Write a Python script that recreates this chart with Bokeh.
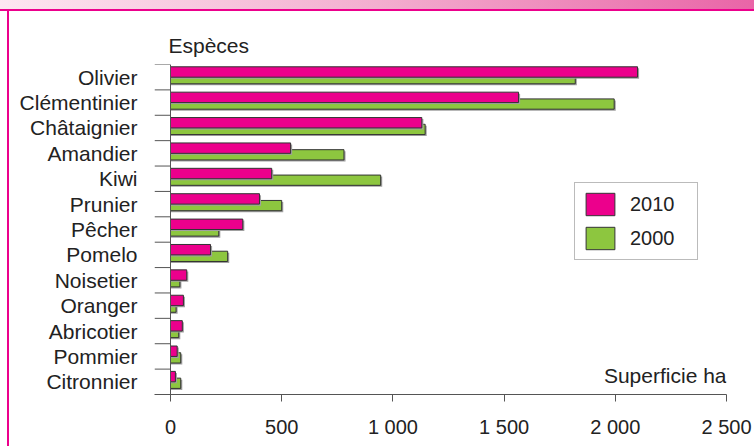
from bokeh.plotting import figure
from bokeh.models import (FactorRange, Range1d, FixedTicker, Span, Label, Legend,
                          LegendItem, ColumnDataSource)
from bokeh.transform import dodge
from bokeh.embed import file_html
from bokeh.resources import INLINE

# ---- data -------------------------------------------------------------
CATEGORIES = ["Olivier", "Clémentinier", "Châtaignier", "Amandier", "Kiwi",
              "Prunier", "Pêcher", "Pomelo", "Noisetier", "Oranger",
              "Abricotier", "Pommier", "Citronnier"]
SURFACE_2010 = [2100, 1565, 1130, 540, 455, 400, 325, 180, 73, 58, 53, 30, 22]
SURFACE_2000 = [1820, 1995, 1145, 780, 945, 500, 217, 257, 42, 25, 37, 46, 46]
SERIES_NAMES = ["2010", "2000"]
X_TICKS = [0, 500, 1000, 1500, 2000, 2500]
X_TICK_LABELS = ["0", "500", "1 000", "1 500", "2 000", "2 500"]
Y_TITLE = "Espèces"
X_TITLE = "Superficie ha"

# ---- style ------------------------------------------------------------
PINK = "#EC008C"
GREEN = "#8DC63F"
EDGE = "#333333"
AXIS = "#555555"
TEXT = "#222222"
FONT = "Liberation Sans"
X_START, X_END = -72, 2500
SHADOW_DX = 7      # data units (~1.5 px)
SHADOW_DY = 0.06   # category units (~1.5 px)

src = ColumnDataSource(dict(
    cat=CATEGORIES,
    v2010=SURFACE_2010,
    v2000=SURFACE_2000,
    s2010=[v + SHADOW_DX for v in SURFACE_2010],
    s2000=[v + SHADOW_DX for v in SURFACE_2000],
))

p = figure(width=754, height=446,
           x_range=Range1d(X_START, X_END),
           y_range=FactorRange(factors=CATEGORIES[::-1]),
           output_backend="svg", toolbar_location=None,
           min_border_left=154, min_border_right=28,
           min_border_top=64, min_border_bottom=52,
           border_fill_color=None, outline_line_color=None)

p.styles = {
    "background": ("linear-gradient(#ec008c, #ec008c) 7px 9px / 2px 100% no-repeat, "
                   "linear-gradient(#ec008c, #ec008c) 0 9px / 100% 2px no-repeat, "
                   "linear-gradient(to right, #fde6f1 0%, #f3aecf 50%, #e965a7 100%) 0 0 / 100% 9px no-repeat, "
                   "#ffffff")
}

G_OFF, G_H = -0.058, 0.405
P_OFF, P_H = 0.205, 0.41

# green (2000) bars with shadow
p.hbar(y=dodge("cat", G_OFF - SHADOW_DY, range=p.y_range), left=0, right="s2000",
       height=G_H, fill_color="#a0a0a0", line_color=None, source=src)
green = p.hbar(y=dodge("cat", G_OFF, range=p.y_range), left=0, right="v2000",
               height=G_H, fill_color=GREEN, line_color=EDGE, line_width=1, source=src)
# pink (2010) bars with shadow
p.hbar(y=dodge("cat", P_OFF - SHADOW_DY, range=p.y_range), left=0, right="s2010",
       height=P_H, fill_color="#a0a0a0", line_color=None, source=src)
pink = p.hbar(y=dodge("cat", P_OFF, range=p.y_range), left=0, right="v2010",
              height=P_H, fill_color=PINK, line_color=EDGE, line_width=1, source=src)

# category separator ticks and vertical axis line at 0
p.segment(x0=X_START, x1=0,
          y0=dodge("cat", 0.5, range=p.y_range), y1=dodge("cat", 0.5, range=p.y_range),
          line_color=AXIS, line_width=1, source=src)
p.add_layout(Span(location=0, dimension="height", line_color=AXIS, line_width=1))

# axes
p.grid.visible = False
xa = p.xaxis[0]
xa.ticker = FixedTicker(ticks=X_TICKS)
xa.major_label_overrides = dict(zip(X_TICKS, X_TICK_LABELS))
xa.minor_tick_line_color = None
xa.major_tick_in = 0
xa.major_tick_out = 7
xa.axis_line_color = AXIS
xa.major_tick_line_color = AXIS
xa.major_label_text_font = FONT
xa.major_label_text_font_size = "20px"
xa.major_label_text_color = TEXT
xa.major_label_standoff = 14

ya = p.yaxis[0]
ya.axis_line_color = None
ya.major_tick_line_color = None
ya.minor_tick_line_color = None
ya.major_tick_in = 0
ya.major_tick_out = 0
ya.major_label_standoff = 17
ya.major_label_text_font = FONT
ya.major_label_text_font_size = "21px"
ya.major_label_text_color = TEXT

# titles
p.title.text = Y_TITLE
p.title.align = "left"
p.title.offset = 14
p.title.standoff = 15
p.title.text_font = FONT
p.title.text_font_size = "21px"
p.title.text_font_style = "normal"
p.title.text_color = TEXT

p.add_layout(Label(x=X_END, y=19, y_units="screen", text=X_TITLE,
                   text_font=FONT, text_font_size="21px", text_color=TEXT,
                   text_align="right", text_baseline="alphabetic"))

# legend
legend = Legend(items=[LegendItem(label=SERIES_NAMES[0], renderers=[pink]),
                       LegendItem(label=SERIES_NAMES[1], renderers=[green])],
                location=(420, 134), orientation="vertical",
                padding=7, spacing=6, margin=0,
                glyph_width=36, glyph_height=28, label_standoff=12, label_width=60,
                label_text_font=FONT, label_text_font_size="20px", label_text_color=TEXT,
                border_line_color="#777777", border_line_width=1,
                background_fill_color="white", background_fill_alpha=1)
p.add_layout(legend)

open("out.html", "w").write(file_html(p, INLINE))
